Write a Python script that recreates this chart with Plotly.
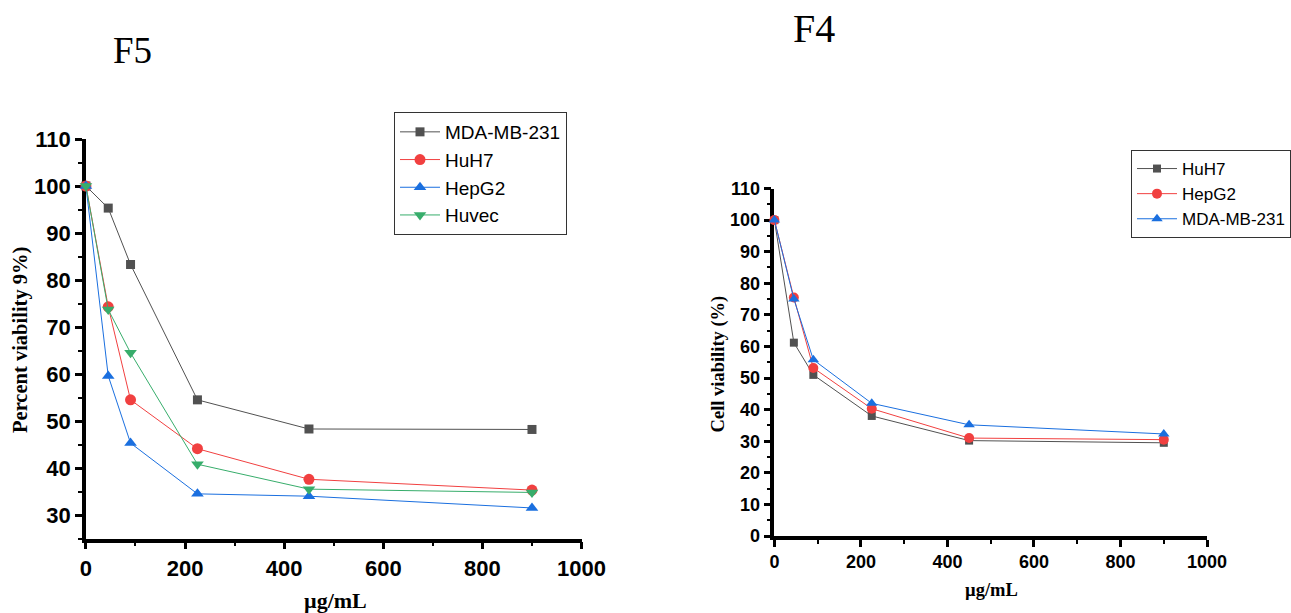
import plotly.graph_objects as go

# concentrations (µg/mL)
dose = [0, 45, 90, 225, 450, 900]

# F5 panel - percent viability
f5_mda = [100, 95.3, 83.3, 54.5, 48.3, 48.2]
f5_huh7 = [100, 74.3, 54.5, 44.1, 37.6, 35.3]
f5_hepg2 = [100, 59.6, 45.3, 34.5, 34.0, 31.5]
f5_huvec = [100, 73.7, 64.5, 40.8, 35.5, 34.8]

# F4 panel - cell viability
f4_huh7 = [100, 61.2, 51.0, 38.0, 30.2, 29.5]
f4_hepg2 = [100, 75.5, 53.2, 40.3, 31.0, 30.5]
f4_mda = [100, 75.0, 55.8, 42.0, 35.2, 32.3]

GRAY, RED, BLUE, GREEN = "#515151", "#F14040", "#1A6FDF", "#37AD6B"
SANS = "Liberation Sans, Arial, sans-serif"
SERIF = "Liberation Serif, Times New Roman, serif"

fig = go.Figure()


def add_line(x, y, name, color, symbol, xa, ya, legend, size=10):
    fig.add_trace(go.Scatter(
        x=x, y=y, name=name, mode="lines+markers",
        line=dict(color=color, width=1),
        marker=dict(color=color, symbol=symbol, size=size),
        xaxis=xa, yaxis=ya, legend=legend, cliponaxis=False,
    ))


# ── F5 ──────────────────────────────────────────────────────────────────────
add_line(dose, f5_mda, "MDA-MB-231", GRAY, "square", "x", "y", "legend", 9)
add_line(dose, f5_huh7, "HuH7", RED, "circle", "x", "y", "legend", 11)
add_line(dose, f5_hepg2, "HepG2", BLUE, "triangle-up", "x", "y", "legend", 11)
add_line(dose, f5_huvec, "Huvec", GREEN, "triangle-down", "x", "y", "legend", 11)

# ── F4 ──────────────────────────────────────────────────────────────────────
add_line(dose, f4_huh7, "HuH7", GRAY, "square", "x2", "y2", "legend2", 8)
add_line(dose, f4_hepg2, "HepG2", RED, "circle", "x2", "y2", "legend2", 10)
add_line(dose, f4_mda, "MDA-MB-231", BLUE, "triangle-up", "x2", "y2", "legend2", 10)


def axis_style(size, dtick, minor, rng, domain, anchor):
    return dict(
        range=rng, domain=domain, anchor=anchor, dtick=dtick, tick0=0,
        automargin=False,
        showgrid=False, zeroline=False, showline=True, linewidth=3.5,
        linecolor="black", ticks="outside", ticklen=7, tickwidth=3,
        tickcolor="black", layer="below traces",
        tickfont=dict(family=SANS, size=size, color="black", weight="bold"),
        minor=dict(dtick=minor, tick0=0, ticks="outside", ticklen=4,
                   tickwidth=2, tickcolor="black", showgrid=False),
    )


W, H = 1291, 613
fig.update_layout(
    template="none",
    width=W, height=H, margin=dict(l=0, r=0, t=0, b=0, pad=0),
    paper_bgcolor="white", plot_bgcolor="white", showlegend=True,
    xaxis=axis_style(22, 200, 100, [0, 1000], [86 / W, 582 / W], "y"),
    yaxis=axis_style(22, 10, 5, [25, 110], [1 - 538.5 / H, 1 - 139 / H], "x"),
    xaxis2=axis_style(18, 200, 100, [0, 1000], [775 / W, 1208 / W], "y2"),
    yaxis2=axis_style(18, 10, 5, [0, 110], [1 - 536 / H, 1 - 188.5 / H], "x2"),
    legend=dict(
        x=394 / W, y=1 - 112 / H, xanchor="left", yanchor="top",
        bgcolor="white", bordercolor="#333333", borderwidth=1,
        font=dict(family=SANS, size=19, color="black"),
        itemwidth=40,
    ),
    legend2=dict(
        x=1132 / W, y=1 - 150 / H, xanchor="left", yanchor="top",
        bgcolor="white", bordercolor="#333333", borderwidth=1,
        font=dict(family=SANS, size=17, color="black"),
        itemwidth=40,
    ),
)

# panel labels and axis titles
texts = [
    ("F5", 133, 51, 37, 0, False),
    ("F4", 815, 28, 40, 0, False),
    ("Percent viability 9%)", 20, 340, 20.5, -90, True),
    ("Cell viability (%)", 719, 364, 18.5, -90, True),
    ("µg/mL", 336, 600, 22, 0, True),
    ("µg/mL", 992, 590, 18.5, 0, True),
]
for txt, px, py, size, angle, bold in texts:
    fig.add_annotation(
        text=txt, x=px / W, y=1 - py / H, xref="paper", yref="paper",
        xanchor="center", yanchor="middle", showarrow=False, textangle=angle,
        font=dict(family=SERIF, size=size, color="black",
                  weight="bold" if bold else "normal"),
    )

# drop the page's default body margin so the figure sits at the top-left corner
fig.write_html(
    "out.html",
    config={"displayModeBar": False},
    post_script="document.body.style.margin='0';document.body.style.overflow='hidden';",
)
